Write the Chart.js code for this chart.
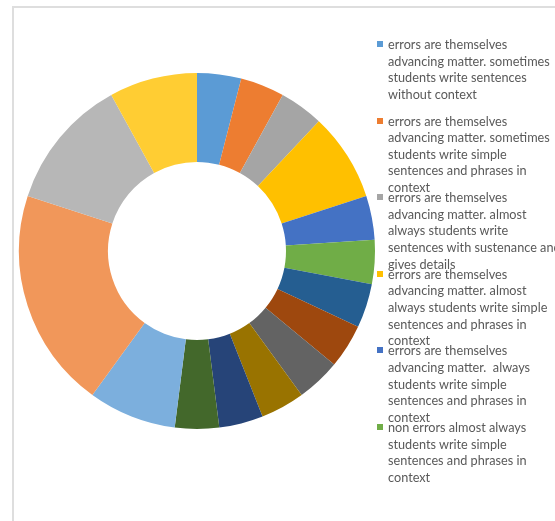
<!DOCTYPE html>
<html>
<head>
<meta charset="utf-8">
<script src="https://cdn.jsdelivr.net/npm/chart.js@4"></script>
<style>
  html, body { margin: 0; padding: 0; background: #fff; overflow: hidden; }
  #wrap { position: relative; width: 555px; height: 521px; }
  #frame { position: absolute; left: 12px; top: 6px; right: 0; bottom: 0;
           border-top: 2px solid #dedede; border-left: 2px solid #dedede; }
  #legend { position: absolute; left: 0; top: 0; width: 555px; height: 521px;
            font-family: Lato, "Open Sans", sans-serif; font-size: 12.7px; color: #595959;
            pointer-events: none; }
  .item { position: absolute; left: 377px; white-space: nowrap; line-height: 16.6px; }
  .box { position: absolute; left: 0; top: 5px; width: 6px; height: 6px; }
  .txt { position: absolute; left: 11px; top: 0; }
</style>
</head>
<body>
<div id="wrap">
  <div id="frame"></div>
  <canvas id="donut"></canvas>
  <div id="legend"></div>
</div>
<script>
// categories (first six are the ones the legend shows), one line per array item
const categories = [
  ['errors are themselves', 'advancing matter. sometimes', 'students write sentences', 'without context'],
  ['errors are themselves', 'advancing matter. sometimes', 'students write simple', 'sentences and phrases in', 'context'],
  ['errors are themselves', 'advancing matter. almost', 'always students write', 'sentences with sustenance and', 'gives details'],
  ['errors are themselves', 'advancing matter. almost', 'always students write simple', 'sentences and phrases in', 'context'],
  ['errors are themselves', 'advancing matter.  always', 'students write simple', 'sentences and phrases in', 'context'],
  ['non errors almost always', 'students write simple', 'sentences and phrases in', 'context'],
  'category 7', 'category 8', 'category 9', 'category 10', 'category 11',
  'category 12', 'category 13', 'category 14', 'category 15', 'category 16'
];

// slice values, clockwise from 12 o'clock
const counts = [1, 1, 1, 2, 1, 1, 1, 1, 1, 1, 1, 1, 2, 5, 3, 2];

const sliceColors = [
  '#5B9BD5', '#ED7D31', '#A5A5A5', '#FFC000', '#4472C4', '#70AD47',
  '#255E91', '#9E480E', '#636363', '#997300', '#264478', '#43682B',
  '#7CAFDD', '#F1975A', '#B7B7B7', '#FFCD33'
];

const legendShown = 6;

const canvas = document.getElementById('donut');
canvas.width = 555;
canvas.height = 521;

const chart = new Chart(canvas.getContext('2d'), {
  type: 'doughnut',
  data: {
    labels: categories,
    datasets: [{
      data: counts,
      backgroundColor: sliceColors,
      borderWidth: 0
    }]
  },
  options: {
    responsive: false,
    animation: false,
    cutout: '50%',
    layout: { padding: { left: 19, right: 180, top: 73, bottom: 92 } },
    plugins: {
      legend: { display: false },
      tooltip: { enabled: true }
    }
  }
});

// html legend built from the chart's own legend items
const items = Chart.overrides.doughnut.plugins.legend.labels.generateLabels(chart);
const legendEl = document.getElementById('legend');
items.slice(0, legendShown).forEach((it, i) => {
  const div = document.createElement('div');
  div.className = 'item';
  div.style.top = (36 + i * 76.6) + 'px';
  const box = document.createElement('span');
  box.className = 'box';
  box.style.background = it.fillStyle;
  const txt = document.createElement('span');
  txt.className = 'txt';
  const lines = Array.isArray(it.text) ? it.text : [it.text];
  txt.innerHTML = lines.map(l => l.replace(/  /g, ' &nbsp;')).join('<br>');
  div.appendChild(box);
  div.appendChild(txt);
  legendEl.appendChild(div);
});
</script>
</body>
</html>
